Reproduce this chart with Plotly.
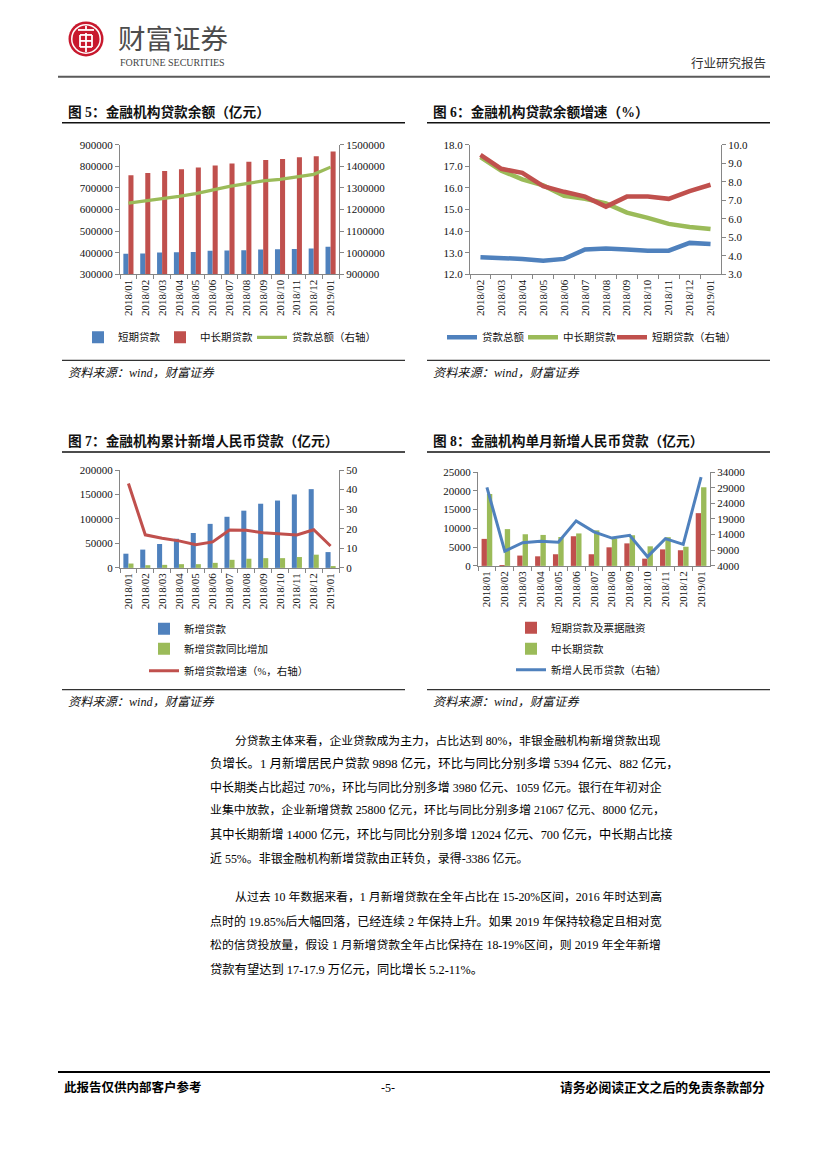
import plotly.graph_objects as go

W, H = 827, 1169
# small empirical vertical correction (render appeared slightly compressed / offset)
Y_OFF, Y_SCALE = 4.0, 0.9917


def px(x):
    return x / W


def py(y):
    return 1 - ((y - Y_OFF) / Y_SCALE) / H


# ---------------- data ----------------
months13 = ["2018/01", "2018/02", "2018/03", "2018/04", "2018/05", "2018/06", "2018/07",
            "2018/08", "2018/09", "2018/10", "2018/11", "2018/12", "2019/01"]
months12 = months13[1:]

# Fig 5: loan balances (亿元)
short_bal = [396000, 397000, 401000, 402500, 404000, 410000, 410500, 411500, 415000, 416500, 418000, 419500, 428500]
midlong_bal = [759000, 769000, 779000, 787000, 795000, 804000, 813000, 821000, 829000, 833500, 842500, 846500, 868500]
total_bal = [1230000, 1240000, 1250000, 1261000, 1274000, 1292000, 1307500, 1320000, 1333000, 1340000, 1352500, 1363000, 1396500]

# Fig 6: balance growth (%)
g_total = [12.8, 12.77, 12.72, 12.63, 12.72, 13.16, 13.2, 13.16, 13.1, 13.1, 13.46, 13.41]
g_midlong = [17.43, 16.8, 16.4, 16.12, 15.64, 15.5, 15.29, 14.86, 14.62, 14.34, 14.2, 14.1]
g_short = [9.45, 8.7, 8.48, 7.77, 7.46, 7.2, 6.66, 7.2, 7.2, 7.08, 7.5, 7.84]

# Fig 7: cumulative new RMB loans
cum_new = [29000, 37400, 48800, 59500, 71300, 90000, 104500, 117000, 131200, 137700, 150200, 161000, 32300]
cum_yoy_add = [8900, 5500, 6200, 7600, 7600, 10300, 16500, 18700, 19900, 19900, 22200, 27000, 3300]
cum_growth = [43.1, 16.9, 15.2, 13.8, 11.8, 13.3, 19.4, 19.2, 18.0, 17.4, 16.8, 19.5, 11.2]

# Fig 8: monthly new RMB loans
m_short = [7200, 150, 2750, 2550, 3100, 7900, 3100, 4950, 6000, 1930, 4400, 4170, 14050]
m_midlong = [19150, 9800, 8430, 8250, 7700, 8650, 9480, 7300, 8170, 5220, 7640, 5100, 20950]
m_total = [29100, 8700, 11400, 11900, 11600, 18400, 14900, 12900, 13800, 6950, 12700, 10900, 32400]

# ---------------- style ----------------
BLUE = "#4F81BD"
RED = "#C0504D"
GREEN = "#9BBB59"
AX = "#868686"
SERIF = "Liberation Serif, Noto Sans CJK SC, serif"
TICKFONT = dict(family=SERIF, size=11, color="#111")
LEGFONT = dict(family=SERIF, size=10.5, color="#111")

fig = go.Figure()

# Fig 5
fig.add_trace(go.Bar(x=months13, y=short_bal, name="短期贷款", marker=dict(color=BLUE, line=dict(width=0)),
                     xaxis="x", yaxis="y", legend="legend", showlegend=True))
fig.add_trace(go.Bar(x=months13, y=midlong_bal, name="中长期贷款", marker=dict(color=RED, line=dict(width=0)),
                     xaxis="x", yaxis="y", legend="legend9"))
fig.add_trace(go.Scatter(x=months13, y=total_bal, name="贷款总额（右轴）", mode="lines",
                         line=dict(color=GREEN, width=3.2), xaxis="x", yaxis="y2", legend="legend10"))

# Fig 6
fig.add_trace(go.Scatter(x=months12, y=g_total, name="贷款总额", mode="lines",
                         line=dict(color=BLUE, width=4.5), xaxis="x2", yaxis="y3", legend="legend2"))
fig.add_trace(go.Scatter(x=months12, y=g_midlong, name="中长期贷款", mode="lines",
                         line=dict(color=GREEN, width=4.5), xaxis="x2", yaxis="y3", legend="legend11"))
fig.add_trace(go.Scatter(x=months12, y=g_short, name="短期贷款（右轴）", mode="lines",
                         line=dict(color=RED, width=4.5), xaxis="x2", yaxis="y4", legend="legend12"))

# Fig 7
fig.add_trace(go.Bar(x=months13, y=cum_new, name="新增贷款", marker=dict(color=BLUE, line=dict(width=0)),
                     xaxis="x3", yaxis="y5", legend="legend3"))
fig.add_trace(go.Bar(x=months13, y=cum_yoy_add, name="新增贷款同比增加", marker=dict(color=GREEN, line=dict(width=0)),
                     xaxis="x3", yaxis="y5", legend="legend4"))
fig.add_trace(go.Scatter(x=months13, y=cum_growth, name="新增贷款增速（%，右轴）", mode="lines",
                         line=dict(color=RED, width=3), xaxis="x3", yaxis="y6", legend="legend5"))

# Fig 8
fig.add_trace(go.Bar(x=months13, y=m_short, name="短期贷款及票据融资", marker=dict(color=RED, line=dict(width=0)),
                     xaxis="x4", yaxis="y7", legend="legend6"))
fig.add_trace(go.Bar(x=months13, y=m_midlong, name="中长期贷款", marker=dict(color=GREEN, line=dict(width=0)),
                     xaxis="x4", yaxis="y7", legend="legend7"))
fig.add_trace(go.Scatter(x=months13, y=m_total, name="新增人民币贷款（右轴）", mode="lines",
                         line=dict(color=BLUE, width=3), xaxis="x4", yaxis="y8", legend="legend8"))


def xcfg(x0, x1, anchor, n):
    return dict(domain=[px(x0), px(x1)], anchor=anchor, type="category", range=[-0.5, n - 0.5],
                tickangle=-90, showline=True, linecolor=AX, linewidth=1, ticks="outside", ticklen=4,
                tickcolor=AX, tickson="boundaries", showgrid=False, zeroline=False, tickfont=TICKFONT,
                fixedrange=True)


def ycfg(y_top, y_bot, anchor, rng, dtick, fmt=None):
    d = dict(domain=[py(y_bot), py(y_top)], anchor=anchor, range=rng, dtick=dtick, tick0=rng[0],
             showline=True, linecolor=AX, linewidth=1, ticks="outside", ticklen=4, tickcolor=AX,
             showgrid=False, zeroline=False, tickfont=TICKFONT, fixedrange=True)
    if fmt:
        d["tickformat"] = fmt
    return d


def y2cfg(over, anchor, rng, dtick, fmt=None):
    d = dict(overlaying=over, side="right", anchor=anchor, range=rng, dtick=dtick, tick0=rng[0],
             showline=True, linecolor=AX, linewidth=1, ticks="outside", ticklen=4, tickcolor=AX,
             showgrid=False, zeroline=False, tickfont=TICKFONT, fixedrange=True)
    if fmt:
        d["tickformat"] = fmt
    return d


def legcfg(text_x, y, orient="v"):
    # plotly puts legend text ~40px right of the legend's left edge
    return dict(x=px(text_x - 40), y=py(y), xanchor="left", yanchor="middle", orientation=orient, font=LEGFONT,
                bgcolor="rgba(0,0,0,0)", borderwidth=0, itemwidth=30, traceorder="normal",
                tracegroupgap=0, itemclick=False, itemdoubleclick=False, visible=True)


layout = dict(
    width=W, height=H, autosize=False, margin=dict(l=0, r=0, t=0, b=0), showlegend=True,
    paper_bgcolor="white", plot_bgcolor="rgba(0,0,0,0)", barmode="group", bargap=0.4, bargroupgap=0,
    font=dict(family=SERIF, color="#111"),
    xaxis=xcfg(120, 339, "y", 13),
    yaxis=ycfg(143, 273, "x", [300000, 900000], 100000, "d"),
    yaxis2=y2cfg("y", "x", [900000, 1500000], 100000, "d"),
    xaxis2=xcfg(470, 721, "y3", 12),
    yaxis3=ycfg(143, 273, "x2", [12, 18], 1, ".1f"),
    yaxis4=y2cfg("y3", "x2", [3, 10], 1, ".1f"),
    xaxis3=xcfg(120, 339, "y5", 13),
    yaxis5=ycfg(469, 567, "x3", [0, 200000], 50000, "d"),
    yaxis6=y2cfg("y5", "x3", [0, 50], 10, "d"),
    xaxis4=xcfg(478, 710, "y7", 13),
    yaxis7=ycfg(471, 565, "x4", [0, 25000], 5000, "d"),
    yaxis8=y2cfg("y7", "x4", [4000, 34000], 5000, "d"),
    # fig 5 legend items
    legend=legcfg(118, 336),
    legend9=legcfg(200, 336),
    legend10=legcfg(292, 336),
    # fig 6 legend items
    legend2=legcfg(482, 336),
    legend11=legcfg(563, 336),
    legend12=legcfg(652, 336),
    # fig 7 legend items
    legend3=legcfg(184, 628),
    legend4=legcfg(184, 648),
    legend5=legcfg(184, 670),
    # fig 8 legend items
    legend6=legcfg(551, 627),
    legend7=legcfg(551, 648),
    legend8=legcfg(551, 669),
)
fig.update_layout(**layout)

shapes = []
ann = []


def hline(x0, x1, y, color, width):
    shapes.append(dict(type="line", xref="paper", yref="paper", x0=px(x0), x1=px(x1), y0=py(y), y1=py(y),
                       line=dict(color=color, width=width)))


def text(x, y, s, size, color="#111", xanchor="left", family=SERIF):
    ann.append(dict(xref="paper", yref="paper", x=px(x), y=py(y), text=s, showarrow=False,
                    xanchor=xanchor, yanchor="middle", font=dict(family=family, size=size, color=color),
                    align="left"))


# ---- header ----
cx, cy, r = 86, 37, 17.5


def circle(rr, fill):
    shapes.append(dict(type="circle", xref="paper", yref="paper", x0=px(cx - rr), x1=px(cx + rr),
                       y0=py(cy + rr), y1=py(cy - rr), fillcolor=fill, line=dict(color=fill, width=0)))


circle(r, "#C8192E")
circle(r - 2.5, "white")
circle(r - 4, "#C8192E")
# white stylised mark inside logo
for (x0, y0, x1, y1) in [(78, 28, 94, 28), (86, 24, 86, 28), (80, 33, 92, 33), (80, 33, 80, 45),
                         (92, 33, 92, 45), (80, 45, 92, 45), (80, 39, 92, 39), (86, 31, 86, 50)]:
    shapes.append(dict(type="line", xref="paper", yref="paper", x0=px(x0), x1=px(x1), y0=py(y0), y1=py(y1),
                       line=dict(color="white", width=1.8)))

text(116, 35, "财富证券", 27.5, "#4d4d4d", family="Noto Sans CJK SC")
text(118, 60.5, "FORTUNE SECURITIES", 10, "#444")
text(768, 62, "行业研究报告", 12.5, "#333", xanchor="right")
hline(58, 770, 75, "#5a5a5a", 2)

# ---- chart frames ----
for (lx, rx) in [(62, 405), (427, 770)]:
    hline(lx, rx, 121, "#111", 1.5)
    hline(lx, rx, 359, "#333", 1.2)
    hline(lx, rx, 451, "#111", 1.5)
    hline(lx, rx, 689, "#333", 1.2)

TS = 13.7
text(66, 110, "<b>图 5：金融机构贷款余额（亿元）</b>", TS)
text(431, 110, "<b>图 6：金融机构贷款余额增速（%）</b>", TS)
text(66, 440, "<b>图 7：金融机构累计新增人民币贷款（亿元）</b>", TS)
text(431, 440, "<b>图 8：金融机构单月新增人民币贷款（亿元）</b>", TS)

src = "<i>资料来源：wind，财富证券</i>"
for (x, y) in [(66, 372), (431, 372), (66, 701), (431, 701)]:
    text(x, y, src, 12.2)

# ---- body text (x, y, font size chosen so each line fills the justified width) ----
body = [
    (233, 740, 11.8, "分贷款主体来看，企业贷款成为主力，占比达到 80%，非银金融机构新增贷款出现"),
    (208, 763, 12.5, "负增长。1 月新增居民户贷款 9898 亿元，环比与同比分别多增 5394 亿元、882 亿元，"),
    (208, 787, 11.95, "中长期类占比超过 70%，环比与同比分别多增 3980 亿元、1059 亿元。银行在年初对企"),
    (208, 810, 11.9, "业集中放款，企业新增贷款 25800 亿元，环比与同比分别多增 21067 亿元、8000 亿元，"),
    (208, 834, 12.25, "其中长期新增 14000 亿元，环比与同比分别多增 12024 亿元、700 亿元，中长期占比接"),
    (208, 858, 11.95, "近 55%。非银金融机构新增贷款由正转负，录得-3386 亿元。"),
    (233, 897, 11.9, "从过去 10 年数据来看，1 月新增贷款在全年占比在 15-20%区间，2016 年时达到高"),
    (208, 921, 11.95, "点时的 19.85%后大幅回落，已经连续 2 年保持上升。如果 2019 年保持较稳定且相对宽"),
    (208, 945, 11.9, "松的信贷投放量，假设 1 月新增贷款全年占比保持在 18-19%区间，则 2019 年全年新增"),
    (208, 969, 12.3, "贷款有望达到 17-17.9 万亿元，同比增长 5.2-11%。"),
]
for (x, y, s, t) in body:
    text(x, y, t, s, "#000")

# ---- footer ----
hline(58, 770, 1072, "#000", 2)
text(62, 1088, "<b>此报告仅供内部客户参考</b>", 12.5, "#000")
text(388, 1088, "-5-", 12, "#000", xanchor="center")
text(767, 1088, "<b>请务必阅读正文之后的免责条款部分</b>", 12.8, "#000", xanchor="right")

fig.update_layout(shapes=shapes, annotations=ann)

fig.write_html("out.html", config={"displayModeBar": False},
               post_script="document.body.style.margin='0';")
